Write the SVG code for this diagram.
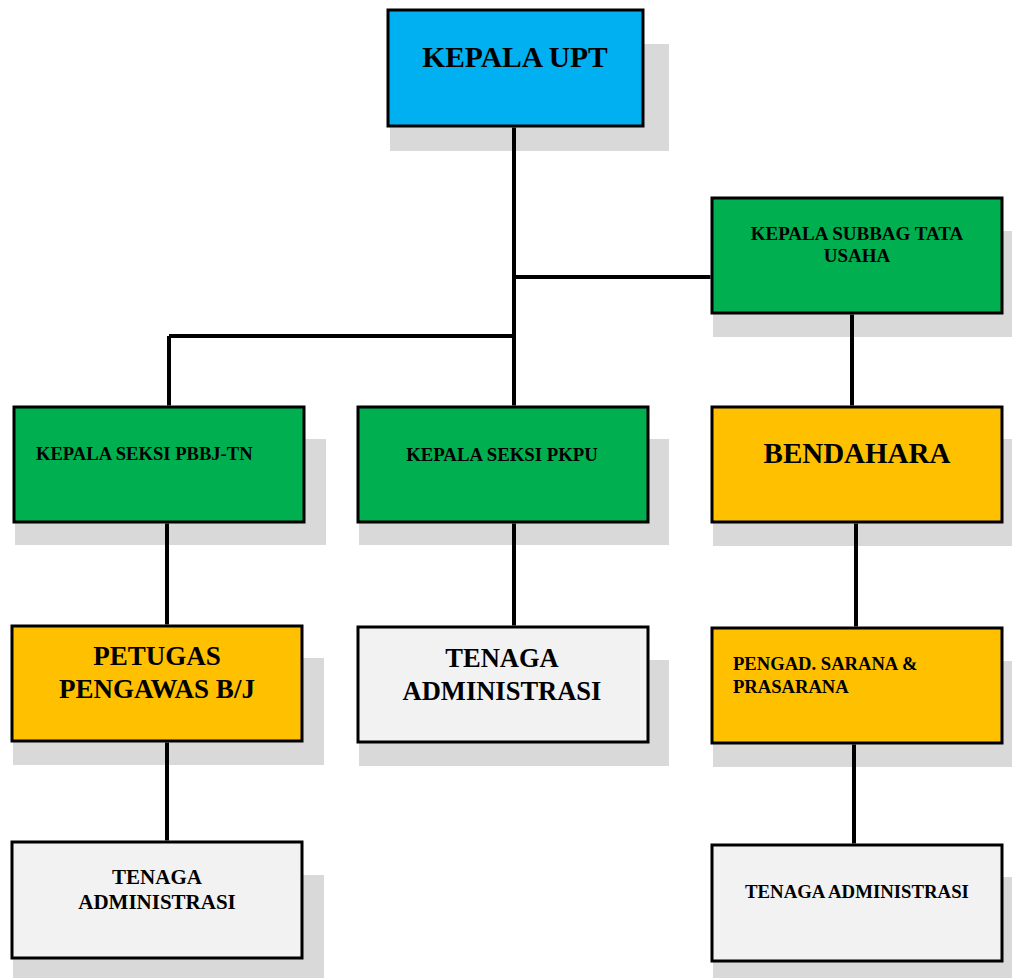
<svg xmlns="http://www.w3.org/2000/svg" width="1012" height="978" viewBox="0 0 1012 978">
<style>
.sh{fill:#d9d9d9}
.bx{stroke:#000;stroke-width:3}
.blue{fill:#00b0f0}.green{fill:#00b050}.yel{fill:#ffc000}.grey{fill:#f2f2f2}
text{font-family:"Liberation Serif","Times New Roman",serif;font-weight:bold;fill:#000}
.c{text-anchor:middle}
.con{stroke:#000;stroke-width:4;fill:none}
</style>
<rect width="1012" height="978" fill="#fff"/>
<g id="kepala-upt">
<rect class="sh" x="390" y="44" width="279" height="107"/>
<rect class="bx blue" x="388" y="10" width="255" height="116"/>
<text class="c" x="515" y="67" font-size="29.5">KEPALA UPT</text>
</g>
<g id="subbag">
<rect class="sh" x="713" y="231" width="299" height="106"/>
<rect class="bx green" x="712" y="198" width="290" height="115"/>
<text class="c" x="857" y="240" font-size="19">KEPALA SUBBAG TATA</text>
<text class="c" x="857" y="262" font-size="19">USAHA</text>
</g>
<g id="seksi-pbbj">
<rect class="sh" x="15" y="439" width="311" height="106"/>
<rect class="bx green" x="14" y="407" width="290" height="115"/>
<text x="36" y="460" font-size="18.6">KEPALA SEKSI PBBJ-TN</text>
</g>
<g id="seksi-pkpu">
<rect class="sh" x="359" y="439" width="310" height="106"/>
<rect class="bx green" x="358" y="407" width="290" height="115"/>
<text class="c" x="502" y="461" font-size="18.8">KEPALA SEKSI PKPU</text>
</g>
<g id="bendahara">
<rect class="sh" x="713" y="439" width="299" height="107"/>
<rect class="bx yel" x="712" y="407" width="290" height="115"/>
<text class="c" x="857" y="463" font-size="29">BENDAHARA</text>
</g>
<g id="petugas">
<rect class="sh" x="13" y="658" width="311" height="107"/>
<rect class="bx yel" x="12" y="626" width="290" height="115"/>
<text class="c" x="157" y="665" font-size="27">PETUGAS</text>
<text class="c" x="157" y="698" font-size="27">PENGAWAS B/J</text>
</g>
<g id="tenaga-mid">
<rect class="sh" x="359" y="660" width="310" height="106"/>
<rect class="bx grey" x="358" y="627" width="290" height="115"/>
<text class="c" x="502" y="667" font-size="26.5">TENAGA</text>
<text class="c" x="502" y="700" font-size="26.5">ADMINISTRASI</text>
</g>
<g id="pengad">
<rect class="sh" x="713" y="661" width="299" height="106"/>
<rect class="bx yel" x="712" y="628" width="290" height="115"/>
<text x="733" y="670" font-size="18.6">PENGAD. SARANA &amp;</text>
<text x="733" y="693" font-size="18.6">PRASARANA</text>
</g>
<g id="tenaga-left">
<rect class="sh" x="13" y="875" width="311" height="103"/>
<rect class="bx grey" x="12" y="842" width="290" height="116"/>
<text class="c" x="157" y="884" font-size="21">TENAGA</text>
<text class="c" x="157" y="909" font-size="21">ADMINISTRASI</text>
</g>
<g id="tenaga-right">
<rect class="sh" x="713" y="877" width="299" height="101"/>
<rect class="bx grey" x="712" y="845" width="290" height="116"/>
<text class="c" x="857" y="898" font-size="18.8">TENAGA ADMINISTRASI</text>
</g>
<g id="connectors">
<path class="con" d="M514 127.5V405.5M514 277H710.5M169 336H514M169 336V405.5M852 314.5V405.5M167 523.5V624.5M514 523.5V625.5M856 523.5V626.5M167 742.5V840.5M854 744.5V843.5"/>
</g>
</svg>
